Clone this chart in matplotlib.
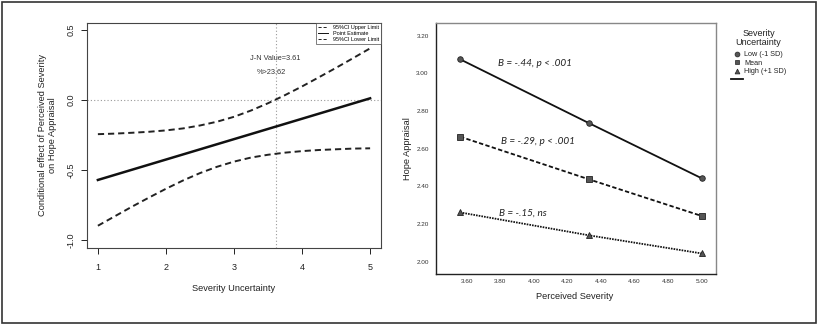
import matplotlib
matplotlib.use("Agg")
from matplotlib import pyplot as plt
from matplotlib.lines import Line2D
from matplotlib.patches import Rectangle

plt.rcParams['font.family'] = ['Liberation Sans', 'DejaVu Sans']

# left panel: Johnson-Neyman plot
mod_x = [1.0, 1.25, 1.5, 1.75, 2.0, 2.25, 2.5, 2.75, 3.0, 3.25, 3.5, 3.75, 4.0, 4.25, 4.5, 4.75, 5.0]
ci_upper = [-0.244, -0.240, -0.234, -0.227, -0.217, -0.203, -0.182, -0.155, -0.120,
            -0.075, -0.023, 0.035, 0.097, 0.163, 0.230, 0.299, 0.369]
ci_lower = [-0.898, -0.830, -0.762, -0.697, -0.634, -0.575, -0.522, -0.477, -0.440,
            -0.411, -0.391, -0.376, -0.365, -0.357, -0.352, -0.347, -0.345]
est_x = [1.0, 5.0]
est_y = [-0.571, 0.012]
jn_value = 3.61
jn_pct = 23.62

# right panel: simple slopes
sev_x = [3.56, 4.33, 5.00]
hope_low = [3.075, 2.735, 2.443]
hope_mean = [2.664, 2.437, 2.243]
hope_high = [2.262, 2.140, 2.044]
slope_labels = ["B = -.44, p < .001", "B = -.29, p < .001", "B = -.15, ns"]
right_yticks = [2.00, 2.20, 2.40, 2.60, 2.80, 3.00, 3.20]
right_xticks = [3.60, 3.80, 4.00, 4.20, 4.40, 4.60, 4.80, 5.00]

fig = plt.figure(figsize=(8.17, 3.26), dpi=100)

# ---- left
ax1 = fig.add_axes([87/817, 1-248/326, 294/817, 225/326])
ax1.axhline(0, color='#999999', lw=0.8, ls=(0, (1, 2)))
ax1.axvline(jn_value, color='#999999', lw=0.8, ls=(0, (1, 2)))
l_up, = ax1.plot(mod_x, ci_upper, color='#222222', lw=1.4, dashes=(3.2, 2.0))
l_est, = ax1.plot(est_x, est_y, color='#111111', lw=1.8)
l_lo, = ax1.plot(mod_x, ci_lower, color='#222222', lw=1.4, dashes=(3.2, 2.0))
ax1.set_xlim(0.84, 5.16)
ax1.set_ylim(-1.057, 0.55)
ax1.set_xticks([1, 2, 3, 4, 5])
ax1.set_yticks([-1.0, -0.5, 0.0, 0.5])
ax1.set_yticklabels(["-1.0", "-0.5", "0.0", "0.5"])
ax1.tick_params(axis='both', labelsize=6.5, length=4, width=0.7, colors='#222222')
ax1.tick_params(axis='x', pad=7)
ax1.tick_params(axis='y', pad=4)
for lab in ax1.get_yticklabels():
    lab.set_rotation(90)
    lab.set_va('center')
for s in ax1.spines.values():
    s.set_color('#444444')
    s.set_linewidth(0.8)
ax1.set_xlabel("Severity Uncertainty", fontsize=6.7, color='#222222', va='center')
ax1.xaxis.set_label_coords(0.5, -0.178)
ax1.set_ylabel("Conditional effect of Perceived Severity\non Hope Appraisal",
               fontsize=6.7, color='#222222', va='center', linespacing=1.25)
ax1.yaxis.set_label_coords(-0.134, 0.5)
ax1.text(jn_value, 0.293, "J-N Value=%.2f" % jn_value, fontsize=5.3,
         color='#333333', ha='center', va='center')
ax1.text(3.55, 0.195, "%%>%.2f" % jn_pct, fontsize=5.3,
         color='#333333', ha='center', va='center')
leg1 = ax1.legend([l_up, l_est, l_lo],
                  ["95%CI Upper Limit", "Point Estimate", "95%CI Lower Limit"],
                  loc='upper right', fontsize=4, frameon=True, fancybox=False,
                  borderaxespad=0, handlelength=1.8, labelspacing=0.15,
                  borderpad=0.4, handletextpad=0.8)
leg1.get_frame().set_edgecolor('#444444')
leg1.get_frame().set_linewidth(0.6)
for h in leg1.get_lines():
    h.set_linewidth(0.7)

# ---- right
ax2 = fig.add_axes([435.7/817, 1-274/326, 280.3/817, 251.3/326])
mk = dict(markersize=4, markerfacecolor='#555555', markeredgecolor='#222222',
          markeredgewidth=0.6, color='#111111', lw=1.3)
ax2.plot(sev_x, hope_low, marker='o', **mk)
ax2.plot(sev_x, hope_mean, marker='s', dashes=(2.4, 1.3), **mk)
ax2.plot(sev_x, hope_high, marker='^', dashes=(0.9, 0.6), **mk)
ax2.set_xlim(3.415, 5.085)
ax2.set_ylim(1.935, 3.269)
ax2.set_xticks(right_xticks)
ax2.set_xticklabels(["%.2f" % v for v in right_xticks])
ax2.set_yticks(right_yticks)
ax2.set_yticklabels(["%.2f" % v for v in right_yticks])
ax2.tick_params(axis='both', length=0, labelsize=4.6, colors='#333333')
ax2.tick_params(axis='y', pad=5)
ax2.tick_params(axis='x', pad=3.5)
ax2.spines['left'].set_color('#222222')
ax2.spines['bottom'].set_color('#222222')
ax2.spines['top'].set_color('#888888')
ax2.spines['right'].set_color('#888888')
for s in ax2.spines.values():
    s.set_linewidth(1.0)
ax2.set_xlabel("Perceived Severity", fontsize=6.7, color='#222222', va='center')
ax2.xaxis.set_label_coords(0.497, -0.090)
ax2.set_ylabel("Hope Appraisal", fontsize=6.7, color='#222222', va='center')
ax2.yaxis.set_label_coords(-0.102, 0.501)
for lab, (tx, ty) in zip(slope_labels, [(3.786, 3.050), (3.802, 2.637), (3.790, 2.258)]):
    ax2.text(tx, ty, lab, fontsize=7.2, style='italic', family=['Lato', 'DejaVu Sans'],
             color='#222222', ha='left', va='center')

handles = [Line2D([], [], ls='none', marker='o', markersize=3.5, markerfacecolor='#555555',
                  markeredgecolor='#222222', markeredgewidth=0.5),
           Line2D([], [], ls='none', marker='s', markersize=3.5, markerfacecolor='#555555',
                  markeredgecolor='#222222', markeredgewidth=0.5),
           Line2D([], [], ls='none', marker='^', markersize=3.5, markerfacecolor='#555555',
                  markeredgecolor='#222222', markeredgewidth=0.5),
           Line2D([], [], color='#111111', lw=1.3)]
leg2 = fig.legend(handles, ["Low (-1 SD)", "Mean", "High (+1 SD)", ""],
                  loc='upper left', bbox_to_anchor=(727/817, 1-25.5/326),
                  fontsize=5.2, title="Severity\nUncertainty", title_fontsize=6.5,
                  frameon=False, borderpad=0, handlelength=1.7, handletextpad=0.2,
                  labelspacing=0.2)
leg2.get_title().set_linespacing(1.0)
leg2.get_title().set_multialignment('center')
leg2.get_title().set_color('#222222')
leg2._legend_box.align = 'center'
leg2._legend_box.sep = 3.0
for t in leg2.get_texts():
    t.set_color('#222222')

fig.patches.append(Rectangle((1.5/817, 1-323/326), 814/817, 321/326,
                             transform=fig.transFigure, fill=False,
                             edgecolor='#333333', lw=1.2))

fig.savefig("out.png", dpi=100)
